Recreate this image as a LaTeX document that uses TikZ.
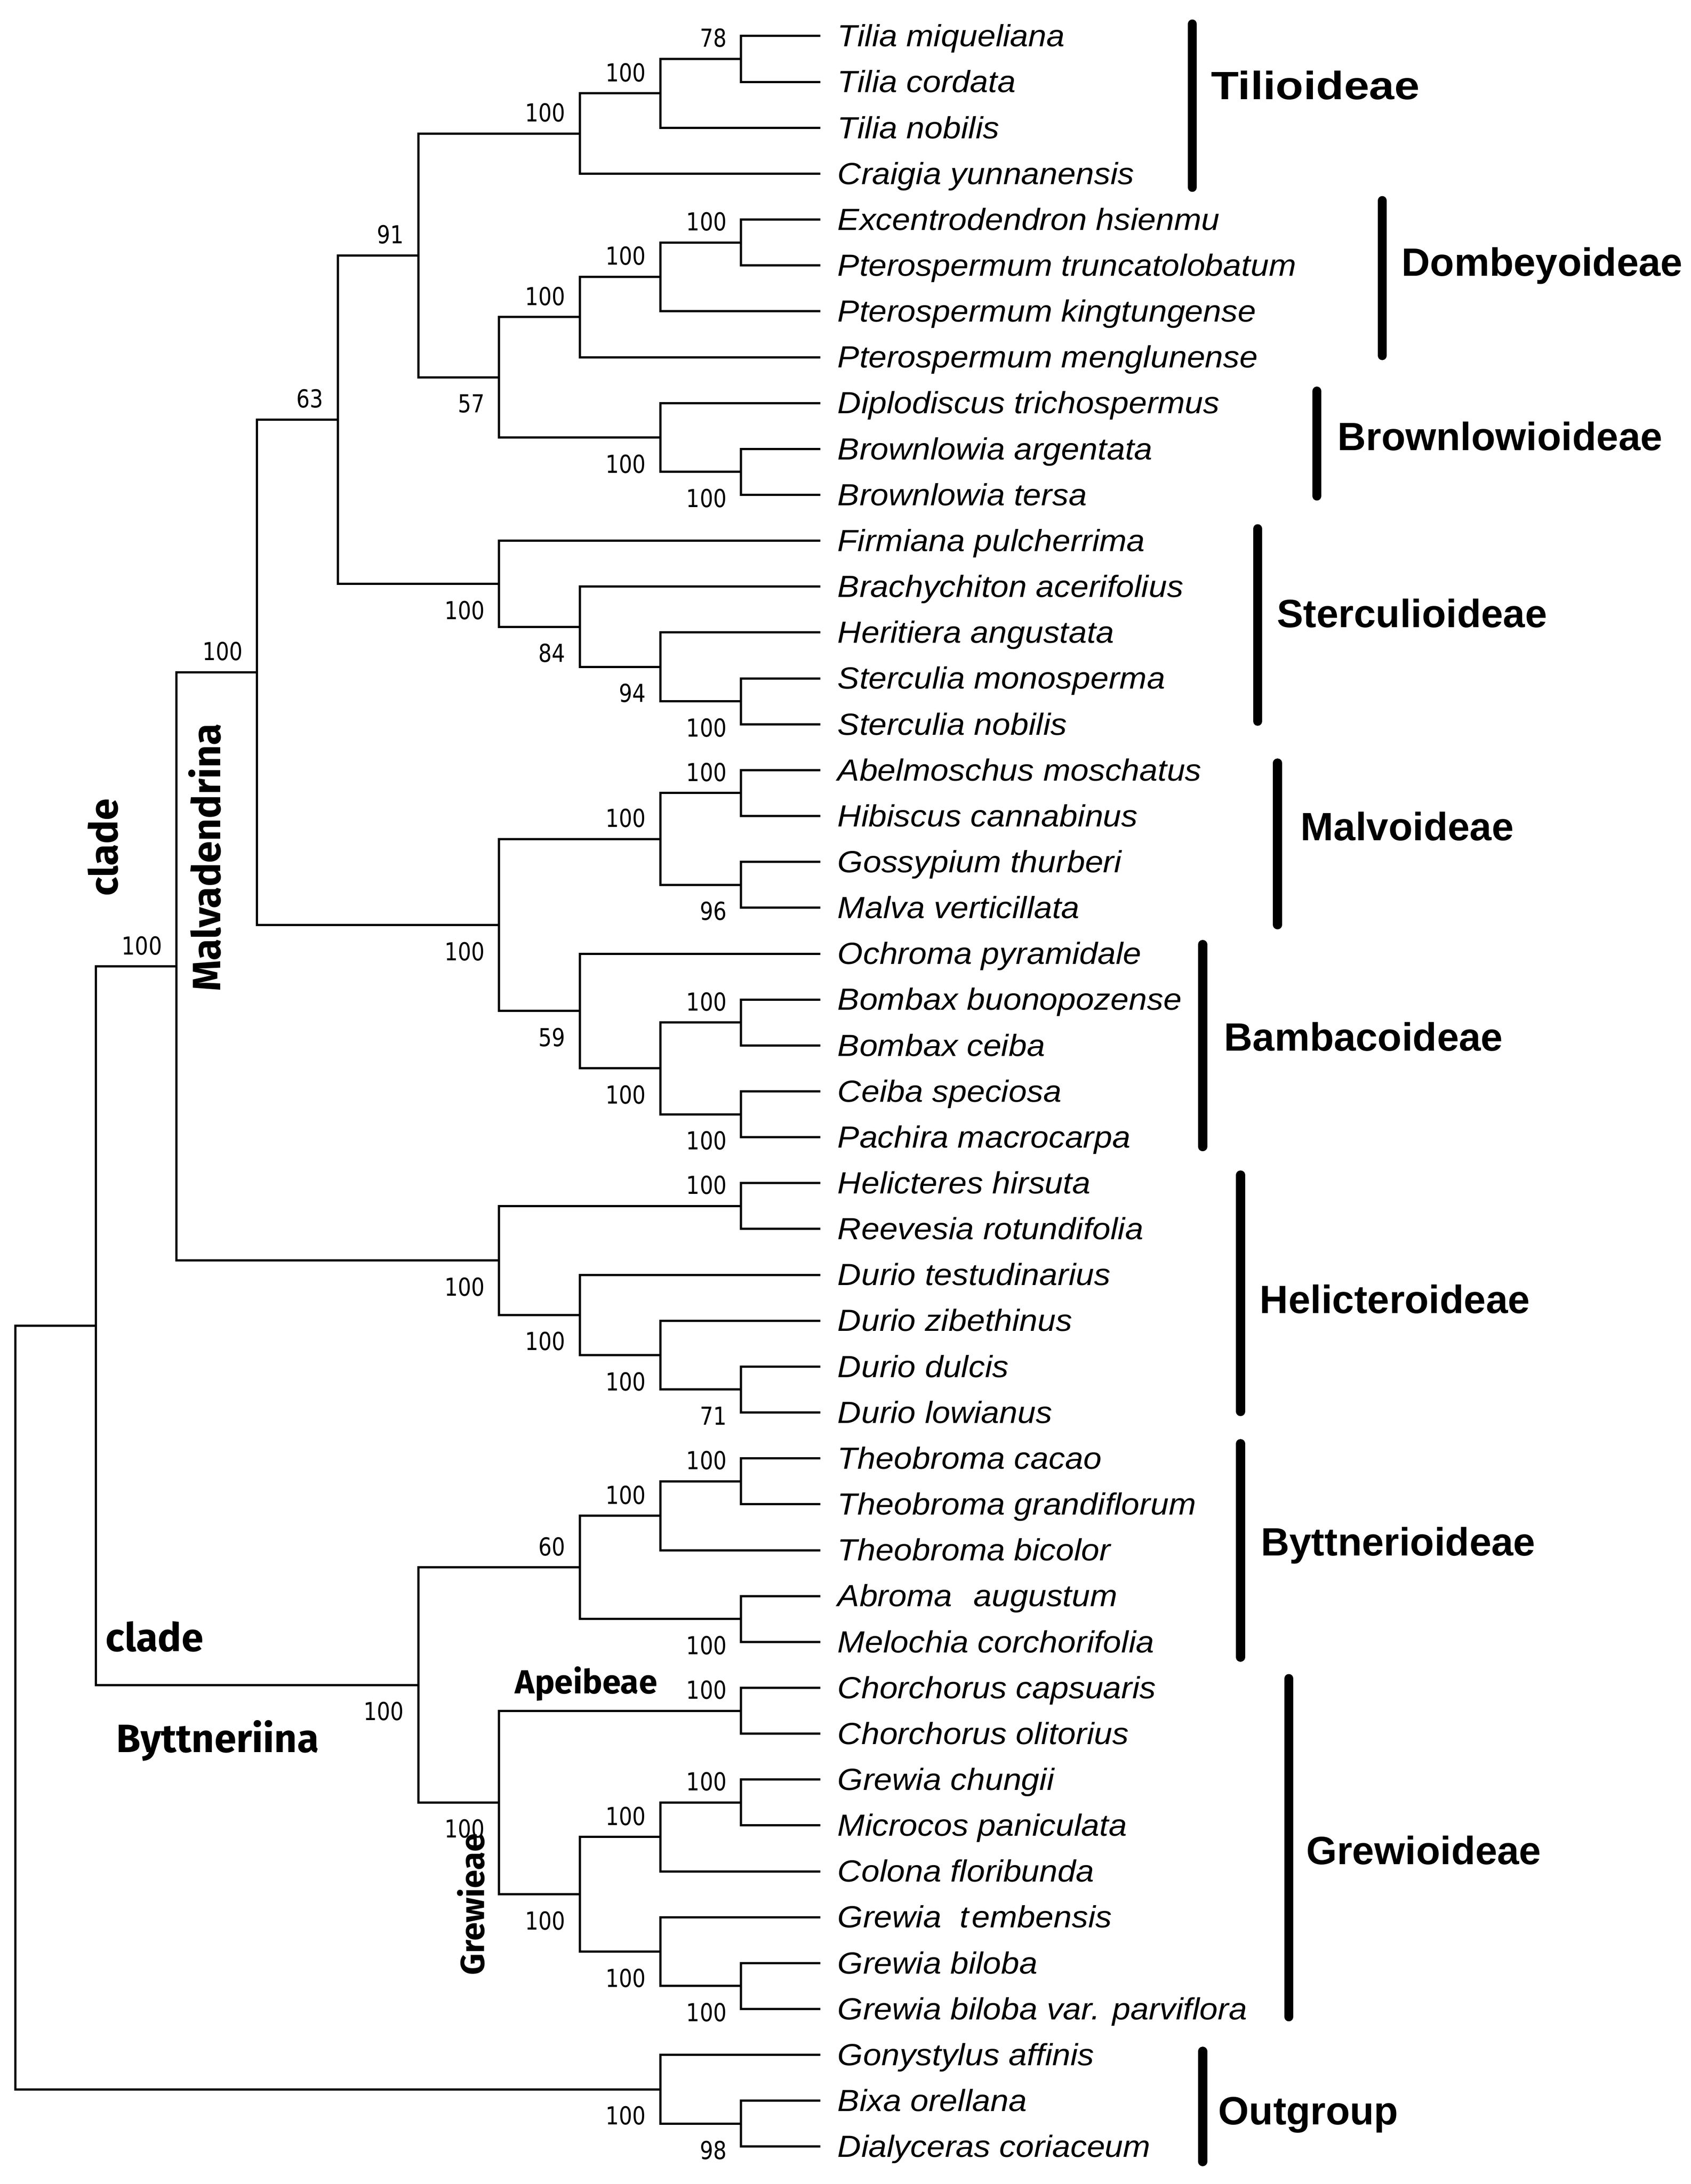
\documentclass[tikz,border=0pt]{standalone}
\usepackage{fontspec}
\setmainfont{Liberation Sans}
\newfontfamily\taxfont[FakeStretch=1.07]{Liberation Sans}
\newfontfamily\bsfont[FakeStretch=0.85]{DejaVu Sans}
\newfontfamily\cladefont{Liberation Sans}
\newfontfamily\grpfont{Fira Sans}
\usetikzlibrary{calc}
\newcommand\leaf[2]{\coordinate (t#1) at (589,{25.9+33*(#1-1)});
  \node[taxon] (x#1) at (602,{33.5+33*(#1-1)}) {#2};}
\newcommand\tnode[4]{\coordinate (#1m) at ($(#3)!0.5!(#4)$);
  \coordinate (#1) at (L#2 |- #1m);
  \draw[branch] (#3) -| (#1) |- (#4);}
\newcommand\bsup[2]{\node[bs] (#1lab) at ($(#1)+(-10,-15)$) {#2};}
\newcommand\bsdn[2]{\node[bs] (#1lab) at ($(#1)+(-10,19)$) {#2};}
\newcommand\cladebar[4]{\coordinate (#1top) at (#2,#3); \coordinate (#1bot) at (#2,#4);
  \draw[barline] (#1top) -- (#1bot);}
\begin{document}
\begin{tikzpicture}[x=0.5pt,y=-0.5pt,
  branch/.style={line width=0.8pt, line cap=rect},
  barline/.style={line width=3.3pt, line cap=round},
  taxon/.style={font=\taxfont\itshape\fontsize{11}{13}\selectfont, anchor=base west, inner sep=0pt},
  bs/.style={font=\bsfont\fontsize{8.9}{10}\selectfont, inner sep=0pt, anchor=east},
  cladelab/.style={font=\cladefont\bfseries\fontsize{14.2}{16}\selectfont, anchor=base west, inner sep=0pt},
  grp/.style={font=\grpfont\bfseries\fontsize{14.2}{16}\selectfont, inner sep=0pt},
  tribe/.style={font=\grpfont\bfseries\fontsize{12}{14}\selectfont, inner sep=0pt}]
\fill[white] (0,0) rectangle (1216,1570.8);
\useasboundingbox (0,0) rectangle (1216,1570.8);
\foreach \k in {0,...,9} \coordinate (L\k) at ({10.9+58*\k},0);
% leaves
\leaf{1}{Tilia miqueliana}
\leaf{2}{Tilia cordata}
\leaf{3}{Tilia nobilis}
\leaf{4}{Craigia yunnanensis}
\leaf{5}{Excentrodendron hsienmu}
\leaf{6}{Pterospermum truncatolobatum}
\leaf{7}{Pterospermum kingtungense}
\leaf{8}{Pterospermum menglunense}
\leaf{9}{Diplodiscus trichospermus}
\leaf{10}{Brownlowia argentata}
\leaf{11}{Brownlowia tersa}
\leaf{12}{Firmiana pulcherrima}
\leaf{13}{Brachychiton acerifolius}
\leaf{14}{Heritiera angustata}
\leaf{15}{Sterculia monosperma}
\leaf{16}{Sterculia nobilis}
\leaf{17}{Abelmoschus moschatus}
\leaf{18}{Hibiscus cannabinus}
\leaf{19}{Gossypium thurberi}
\leaf{20}{Malva verticillata}
\leaf{21}{Ochroma pyramidale}
\leaf{22}{Bombax buonopozense}
\leaf{23}{Bombax ceiba}
\leaf{24}{Ceiba speciosa}
\leaf{25}{Pachira macrocarpa}
\leaf{26}{Helicteres hirsuta}
\leaf{27}{Reevesia rotundifolia}
\leaf{28}{Durio testudinarius}
\leaf{29}{Durio zibethinus}
\leaf{30}{Durio dulcis}
\leaf{31}{Durio lowianus}
\leaf{32}{Theobroma cacao}
\leaf{33}{Theobroma grandiflorum}
\leaf{34}{Theobroma bicolor}
\leaf{35}{Abroma\hspace{0.4em} augustum}
\leaf{36}{Melochia corchorifolia}
\leaf{37}{Chorchorus capsuaris}
\leaf{38}{Chorchorus olitorius}
\leaf{39}{Grewia chungii}
\leaf{40}{Microcos paniculata}
\leaf{41}{Colona floribunda}
\leaf{42}{Grewia\hspace{0.3em} t\hspace{0.1em}embensis}
\leaf{43}{Grewia biloba}
\leaf{44}{Grewia biloba var. parviflora}
\leaf{45}{Gonystylus affinis}
\leaf{46}{Bixa orellana}
\leaf{47}{Dialyceras coriaceum}
% Tilioideae
\tnode{a1}{9}{t1}{t2} \bsup{a1}{78}
\tnode{a2}{8}{a1}{t3} \bsup{a2}{100}
\tnode{a3}{7}{a2}{t4} \bsup{a3}{100}
% Dombeyoideae
\tnode{b1}{9}{t5}{t6} \bsup{b1}{100}
\tnode{b2}{8}{b1}{t7} \bsup{b2}{100}
\tnode{b3}{7}{b2}{t8} \bsup{b3}{100}
% Brownlowioideae
\tnode{c1}{9}{t10}{t11} \bsdn{c1}{100}
\tnode{c2}{8}{t9}{c1} \bsdn{c2}{100}
\tnode{c3}{6}{b3}{c2} \bsdn{c3}{57}
\tnode{c4}{5}{a3}{c3} \bsup{c4}{91}
% Sterculioideae
\tnode{d1}{9}{t15}{t16} \bsdn{d1}{100}
\tnode{d2}{8}{t14}{d1} \bsdn{d2}{94}
\tnode{d3}{7}{t13}{d2} \bsdn{d3}{84}
\tnode{d4}{6}{t12}{d3} \bsdn{d4}{100}
\tnode{d5}{4}{c4}{d4} \bsup{d5}{63}
% Malvoideae
\tnode{e1}{9}{t17}{t18} \bsup{e1}{100}
\tnode{e2}{9}{t19}{t20} \bsdn{e2}{96}
\tnode{e3}{8}{e1}{e2} \bsup{e3}{100}
% Bombacoideae
\tnode{f1}{9}{t22}{t23} \bsup{f1}{100}
\tnode{f2}{9}{t24}{t25} \bsdn{f2}{100}
\tnode{f3}{8}{f1}{f2} \bsdn{f3}{100}
\tnode{f4}{7}{t21}{f3} \bsdn{f4}{59}
\tnode{f5}{6}{e3}{f4} \bsdn{f5}{100}
\tnode{f6}{3}{d5}{f5} \bsup{f6}{100}
% Helicteroideae
\tnode{g1}{9}{t26}{t27} \bsup{g1}{100}
\tnode{g2}{9}{t30}{t31} \bsdn{g2}{71}
\tnode{g3}{8}{t29}{g2} \bsdn{g3}{100}
\tnode{g4}{7}{t28}{g3} \bsdn{g4}{100}
\tnode{g5}{6}{g1}{g4} \bsdn{g5}{100}
\tnode{g6}{2}{f6}{g5} \bsup{g6}{100}
% Byttnerioideae
\tnode{h1}{9}{t32}{t33} \bsup{h1}{100}
\tnode{h2}{8}{h1}{t34} \bsup{h2}{100}
\tnode{h3}{9}{t35}{t36} \bsdn{h3}{100}
\tnode{h4}{7}{h2}{h3} \bsup{h4}{60}
% Grewioideae
\tnode{i1}{9}{t37}{t38} \bsup{i1}{100}
\tnode{i2}{9}{t39}{t40} \bsup{i2}{100}
\tnode{i3}{8}{i2}{t41} \bsup{i3}{100}
\tnode{i4}{9}{t43}{t44} \bsdn{i4}{100}
\tnode{i5}{8}{t42}{i4} \bsdn{i5}{100}
\tnode{i6}{7}{i3}{i5} \bsdn{i6}{100}
\tnode{i7}{6}{i1}{i6} \bsdn{i7}{100}
\tnode{i8}{5}{h4}{i7} \bsdn{i8}{100}
% ingroup
\tnode{j1}{1}{g6}{i8}
% outgroup
\tnode{k1}{9}{t46}{t47} \bsdn{k1}{98}
\tnode{k2}{8}{t45}{k1} \bsdn{k2}{100}
\tnode{root}{0}{j1}{k2}
% clade bars
\cladebar{tilio}{857.4}{17.3}{134.7}
\cladebar{dombey}{994}{144.3}{255.7}
\cladebar{brown}{947}{281.3}{356.7}
\cladebar{sterc}{904.4}{380.3}{518.7}
\cladebar{malv}{918.7}{548.8}{665.1}
\cladebar{bomb}{864.8}{679.3}{824.7}
\cladebar{helic}{892.1}{845.1}{1015.2}
\cladebar{byttn}{892}{1038.3}{1191.9}
\cladebar{grew}{926.8}{1207.3}{1450.5}
\cladebar{outg}{864.8}{1475.3}{1554.7}
% clade names
\node[cladelab] (ntilio) at (870.5,71.4) {\scalebox{1.15}[1]{Tilioideae}};
\node[cladelab] (ndombey) at (1007.6,198.6) {Dombeyoideae};
\node[cladelab] (nbrown) at (961.5,323.9) {Brownlowioideae};
\node[cladelab] (nsterc) at (918,451.2) {Sterculioideae};
\node[cladelab] (nmalv) at (935,604.4) {Malvoideae};
\node[cladelab] (nbomb) at (879.9,755.9) {Bambacoideae};
\node[cladelab] (nhelic) at (905.6,944.5) {Helicteroideae};
\node[cladelab] (nbyttn) at (906.4,1118.8) {Byttnerioideae};
\node[cladelab] (ngrew) at (939,1341) {Grewioideae};
\node[cladelab] (noutg) at (875.8,1528) {Outgroup};
% group labels
\node[grp, rotate=90] (gclade1) at (74.2,609.5) {clade};
\node[grp, rotate=90] (gmalva) at (147.3,616.7) {Malvadendrina};
\node[grp, anchor=base west] (gclade2) at (75.6,1187.8) {clade};
\node[grp, anchor=base west] (gbyttn) at (83.3,1260.2) {Byttneriina};
\node[tribe, anchor=base west] (tapei) at (370,1218.2) {Apeibeae};
\node[tribe, rotate=90] (tgrew) at (338.6,1369.6) {Grewieae};
\end{tikzpicture}
\end{document}
